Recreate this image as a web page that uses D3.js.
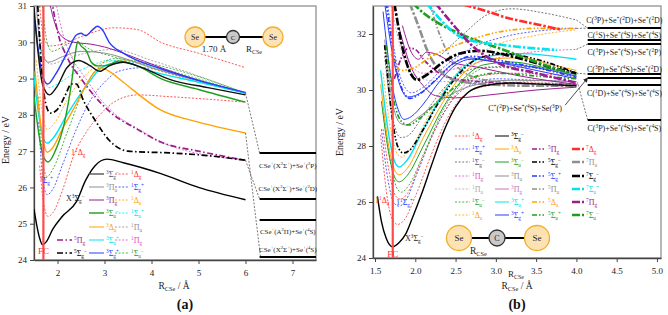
<!DOCTYPE html>
<html>
<head>
<meta charset="utf-8">
<script src="https://cdn.jsdelivr.net/npm/d3@7"></script>
<style>
  body { margin: 0; background: #fff; }
  svg { font-family: 'Liberation Serif', 'DejaVu Serif', serif; }
</style>
</head>
<body>
<svg id="chart" width="668" height="315"></svg>
<script>
// ---------- panel (a) data: [R (Å), E (eV)] ----------
const a_X      = [[1.5,25.4],[1.56,24.95],[1.62,24.6],[1.68,24.42],[1.76,24.5],[1.9,24.85],[2.1,25.2],[2.4,25.6],[2.6,26.2],[2.8,26.6],[3.05,26.78],[3.4,26.68],[4.2,26.38],[5.0,26.0],[6.0,25.66]];
const a_3Sgm   = [[1.5,30.95],[1.58,29.8],[1.68,28.85],[1.83,28.55],[2.0,28.8],[2.2,29.3],[2.45,29.5],[2.7,29.35],[2.9,29.2],[3.1,29.35],[3.4,29.45],[3.8,29.3],[4.4,28.97],[5.2,28.75],[6.0,28.55]];
const a_3Sgp   = [[1.52,30.6],[1.6,29.7],[1.7,29.0],[1.79,28.85],[1.95,29.1],[2.2,29.7],[2.4,30.2],[2.5,30.25],[2.6,30.18],[2.75,30.35],[2.85,30.44],[2.95,30.35],[3.1,30.0],[3.4,29.7],[4.2,29.27],[5.0,28.95],[6.0,28.62]];
const a_3Sum   = [[1.5,28.5],[1.6,27.5],[1.7,26.85],[1.8,26.7],[1.95,27.0],[2.15,27.8],[2.3,28.9],[2.38,29.7],[2.43,30.02],[2.5,29.9],[2.62,29.75],[2.72,29.45],[2.85,29.35],[3.0,29.35],[3.3,29.48],[3.7,29.35],[4.2,29.0],[5.0,28.7],[6.0,28.35]];
const a_3Du    = [[1.52,29.2],[1.6,28.2],[1.7,27.25],[1.78,26.97],[1.9,27.1],[2.1,27.6],[2.4,28.3],[2.6,28.8],[2.8,29.2],[2.93,29.3],[3.1,29.2],[3.4,28.9],[4.2,28.13],[5.0,27.8],[6.0,27.5]];
const a_3Sup   = [[1.48,29.3],[1.6,28.0],[1.7,27.35],[1.78,27.22],[1.9,27.35],[2.2,28.0],[2.5,28.6],[2.7,28.95],[2.85,29.2],[3.1,29.4],[3.4,29.45],[4.0,29.2],[5.0,28.9],[6.0,28.6]];
const a_3Pg    = [[1.83,31.1],[1.95,30.5],[2.1,30.15],[2.35,30.0],[2.7,29.95],[3.0,29.87],[3.5,29.65],[4.2,29.3],[5.0,28.95],[6.0,28.6]];
const a_3Pu    = [[1.55,31],[1.65,29.8],[1.8,29.45],[2.1,29.6],[2.5,29.75],[3.0,29.7],[4.0,29.3],[6.0,28.6]];
const a_5Pg    = [[1.87,31.2],[2.0,30.3],[2.2,29.6],[2.5,29.0],[2.8,28.5],[3.1,28.1],[3.7,27.6],[4.2,27.25],[5.0,27.0],[6.0,26.75]];
const a_1Pg    = [[1.95,31.2],[2.1,30.3],[2.3,29.6],[2.6,29.0],[2.9,28.45],[3.2,28.05],[3.8,27.55],[4.2,27.25],[6.0,26.75]];
const a_5Sgm   = [[1.58,31],[1.65,29.5],[1.75,28.3],[1.85,28.05],[2.0,28.15],[2.15,28.5],[2.3,28.85],[2.4,28.85],[2.55,28.4],[2.8,27.85],[3.1,27.3],[3.5,27.0],[4.4,26.95],[5.0,26.9],[6.0,26.75]];
const a_1Dg_lo = [[1.62,26.6],[1.7,25.6],[1.8,25.2],[1.9,25.3],[2.1,25.9],[2.35,26.9],[2.6,27.5],[2.9,28.0],[3.2,28.35],[3.7,28.55],[4.4,28.5],[5.0,28.45],[6.0,28.35]];
const a_1Dg_hi = [[1.62,31],[1.68,30.3],[1.75,30.0],[1.83,29.9],[2.0,29.92],[2.3,30.05],[2.7,30.25],[3.2,30.4],[3.7,30.35],[4.2,30.0],[5.0,29.7],[6.0,29.3]];
const a_1Sgp   = [[1.6,27.8],[1.7,26.1],[1.78,25.8],[1.9,25.95],[2.1,26.6],[2.4,27.6],[2.7,28.4],[3.0,28.9],[3.3,29.2],[3.8,29.3],[4.5,29.1],[6.0,28.6]];
const a_1Du    = [[1.55,29.5],[1.65,28.3],[1.78,27.6],[1.95,27.8],[2.2,28.4],[2.6,29.1],[3.0,29.45],[3.5,29.5],[4.2,29.2],[6.0,28.6]];
const a_1Sup   = [[1.6,30.3],[1.7,29.1],[1.82,28.75],[2.0,28.85],[2.3,29.1],[2.7,29.35],[3.1,29.5],[3.6,29.45],[4.3,29.2],[6.0,28.6]];
const a_1Pu    = [[1.6,30.5],[1.72,29.6],[1.85,29.4],[2.2,29.55],[2.6,29.7],[3.2,29.8],[4.0,29.5],[6.0,28.6]];
const a_1Sum   = [[1.6,28.5],[1.7,26.6],[1.78,26.3],[1.9,26.5],[2.2,27.5],[2.6,28.8],[2.9,29.35],[3.2,29.55],[3.8,29.45],[6.0,28.6]];
const a_1Sum2  = [[1.68,31],[1.78,30.0],[1.88,29.75],[2.0,29.8],[2.2,29.95],[2.4,30.0],[2.7,29.8],[3.2,29.6],[4.0,29.35],[6.0,28.6]];
const a_links  = [[[6.0,28.6],[6.3,26.95]],[[6.0,27.5],[6.32,24.08]],[[6.0,26.75],[6.3,25.68]]];
const a_limits = [26.95, 25.68, 25.1, 24.08];
const a_limitLabelE = [26.53, 25.9, 24.72, 24.22];
const a_limitText = ['CSe^{+}(X^{2}Σ^{+})+Se^{+}(^{2}P)', 'CSe^{+}(X^{2}Σ^{+})+Se^{+}(^{2}D)', 'CSe^{+}(A^{2}Π)+Se^{+}(^{4}S)', 'CSe^{+}(X^{2}Σ^{+})+Se^{+}(^{4}S)'];
const a_xTicks = [2, 3, 4, 5, 6, 7];
const a_yTicks = [24, 25, 26, 27, 28, 29, 30, 31];

// ---------- panel (b) data ----------
const b_X      = [[1.53,26.2],[1.58,25.3],[1.64,24.7],[1.72,24.4],[1.8,24.55],[1.88,24.85],[1.96,25.4],[2.08,26.3],[2.2,27.3],[2.35,28.5],[2.5,29.4],[2.65,29.9],[2.85,30.15],[3.2,30.25],[3.6,30.2],[4.0,30.15]];
const b_1Dg_a  = [[1.57,28.4],[1.64,26.4],[1.72,25.35],[1.78,25.2],[1.86,25.35],[2.0,26.2],[2.2,27.7],[2.4,29.0],[2.6,29.8],[2.9,30.15],[3.4,30.25],[4.0,30.2]];
const b_1Sgp_a = [[1.58,28.6],[1.66,26.8],[1.74,25.95],[1.8,25.85],[1.88,26.05],[2.02,27.0],[2.2,28.3],[2.45,29.6],[2.7,30.2],[3.0,30.4],[3.5,30.35],[4.0,30.3]];
const b_1Dg_b  = [[1.6,28.6],[1.68,27.0],[1.76,26.2],[1.82,26.1],[1.9,26.3],[2.05,27.3],[2.3,28.9],[2.55,30.0],[2.8,30.5],[3.2,30.6],[4.0,30.5]];
const b_1Sum   = [[1.6,29.2],[1.7,27.3],[1.78,26.45],[1.83,26.35],[1.92,26.6],[2.1,27.7],[2.35,29.3],[2.6,30.3],[2.9,30.8],[3.4,30.8],[4.0,30.55]];
const b_3Sum   = [[1.58,29.6],[1.68,27.6],[1.76,26.8],[1.8,26.72],[1.9,26.95],[2.1,28.0],[2.35,29.4],[2.6,30.4],[2.85,30.9],[3.2,31.0],[3.6,30.8],[4.0,30.55]];
const b_3Du    = [[1.57,30.2],[1.67,28.0],[1.75,27.1],[1.8,26.97],[1.9,27.2],[2.1,28.3],[2.35,29.6],[2.6,30.6],[2.9,31.1],[3.3,31.15],[3.7,30.9],[4.0,30.7]];
const b_3Sup   = [[1.57,30.7],[1.67,28.4],[1.75,27.4],[1.8,27.25],[1.9,27.5],[2.1,28.6],[2.35,29.9],[2.6,30.8],[2.9,31.2],[3.3,31.3],[4.0,31.1]];
const b_1Du    = [[1.6,30.6],[1.7,28.5],[1.78,27.7],[1.83,27.6],[1.93,27.85],[2.15,29.0],[2.4,30.2],[2.7,31.1],[3.0,31.6],[3.5,31.95],[4.0,32.15]];
const b_5Sgm   = [[1.62,31.6],[1.7,29.3],[1.78,28.0],[1.85,27.75],[1.93,27.85],[2.08,28.5],[2.3,29.6],[2.55,30.6],[2.8,31.15],[3.1,31.3],[3.5,31.1],[4.0,30.6]];
const b_1Sgm   = [[1.62,31.2],[1.72,29.0],[1.82,28.3],[1.9,28.35],[2.1,29.1],[2.4,30.2],[2.8,30.8],[3.3,30.85],[4.0,30.6]];
const b_3Pu    = [[1.62,31.8],[1.72,29.5],[1.82,28.8],[1.88,28.75],[2.0,28.95],[2.3,29.6],[2.7,30.15],[3.2,30.35],[4.0,30.3]];
const b_5Sup   = [[1.64,31.6],[1.76,29.3],[1.86,28.8],[1.92,28.75],[2.06,29.0],[2.3,29.65],[2.6,30.3],[3.0,30.6],[3.5,30.5],[4.0,30.4]];
const b_3Sgp_a = [[1.6,32.8],[1.7,30.4],[1.8,29.2],[1.86,28.95],[1.95,29.05],[2.1,29.5],[2.3,30.3],[2.5,30.9],[2.7,31.1],[3.0,31.0],[3.5,30.8],[4.0,30.5]];
const b_3Sgp_b = [[1.62,33.1],[1.75,30.8],[1.85,29.9],[1.9,29.75],[2.0,29.8],[2.2,30.2],[2.45,30.9],[2.65,31.15],[2.9,31.05],[3.5,30.7],[4.0,30.4]];
const b_5Sgp   = [[1.64,33.1],[1.77,30.7],[1.88,29.8],[1.94,29.7],[2.05,29.85],[2.25,30.35],[2.5,31.0],[2.7,31.2],[2.95,31.1],[3.5,30.8],[4.0,30.45]];
const b_1Sgp_b = [[1.66,33],[1.8,30.6],[1.95,29.9],[2.1,30.1],[2.35,30.8],[2.7,31.5],[3.1,31.9],[3.5,32.1],[4.0,32.2]];
const b_7Sgm   = [[1.74,33.1],[1.85,31.4],[1.95,30.55],[2.02,30.36],[2.12,30.5],[2.35,31.0],[2.55,31.3],[2.8,31.4],[3.2,31.2],[3.7,30.8],[4.0,30.6]];
const b_3Pg_a  = [[1.8,32.2],[1.95,30.8],[2.1,30.15],[2.25,29.8],[2.5,29.72],[3.0,29.85],[3.5,30.0],[4.0,30.1]];
const b_3Pg_b  = [[1.84,32.3],[1.95,31.35],[2.04,31.1],[2.14,31.35],[2.24,31.3],[2.45,31.0],[2.8,30.8],[3.3,30.5],[4.0,30.2]];
const b_5Pg    = [[1.74,30.4],[1.82,31.1],[1.92,31.5],[2.0,31.45],[2.1,31.1],[2.3,30.6],[2.6,30.35],[3.2,30.25],[4.0,30.2]];
const b_7Pu    = [[1.93,33.1],[2.05,32.2],[2.15,31.4],[2.3,30.7],[2.5,30.35],[2.9,30.2],[3.5,30.15],[4.0,30.15]];
const b_5Pu    = [[2.18,33.1],[2.3,32.0],[2.45,31.1],[2.65,30.55],[3.0,30.3],[3.5,30.2],[4.0,30.15]];
const b_1Pu    = [[1.7,33],[1.85,31.2],[2.0,30.5],[2.3,30.3],[2.8,30.35],[4.0,30.2]];
const b_7Sum   = [[1.97,33.1],[2.1,32.75],[2.25,32.45],[2.6,31.95],[3.1,31.43],[3.5,31.0],[3.92,30.6]];
const b_7Sup   = [[2.14,33.1],[2.35,32.4],[2.5,32.0],[2.65,31.8],[3.1,31.6],[3.76,31.43]];
const b_7Pg    = [[2.25,33.1],[2.45,32.4],[2.7,31.6],[3.0,31.0],[3.5,30.6],[4.02,30.25]];
const b_7Dg    = [[2.6,33.05],[2.9,32.8],[3.15,32.57],[3.5,32.35],[3.82,32.15]];
const b_5Du    = [[1.7,31.3],[1.82,30.7],[1.95,30.75],[2.2,31.2],[2.6,31.7],[3.0,32.05],[3.5,32.2],[4.0,32.2]];
const b_1Pg    = [[1.78,32.0],[1.92,31.0],[2.1,30.6],[2.4,30.7],[2.8,31.0],[3.3,31.3],[4.0,31.45]];
const b_1Sgm2  = [[2.3,31.2],[2.6,32.0],[2.9,32.7],[3.2,32.9],[3.6,32.75],[4.0,32.5]];
const b_links  = [[[4.0,32.5],[4.14,32.21]],[[4.0,32.2],[4.14,32.21]],[[4.0,31.45],[4.14,31.64]],[[4.0,30.6],[4.14,30.57]],[[4.02,30.2],[4.14,28.93]]];
const b_limits = [32.21, 31.79, 31.64, 30.57, 30.43, 30.18, 28.93];
const b_limitLabelE = [32.39, 31.86, 31.25, 30.64, 29.79, 28.54];
const b_limitText = ['C(^{3}P)+Se^{+}(^{2}D)+Se^{+}(^{2}D)', 'C(^{1}S)+Se^{+}(^{4}S)+Se^{+}(^{4}S)', 'C(^{3}P)+Se^{+}(^{4}S)+Se^{+}(^{2}P)', 'C(^{3}P)+Se^{+}(^{4}S)+Se^{+}(^{2}D)', 'C(^{1}D)+Se^{+}(^{4}S)+Se^{+}(^{4}S)', 'C(^{3}P)+Se^{+}(^{4}S)+Se^{+}(^{4}S)'];
const b_xTicks = [1.5, 2.0, 2.5, 3.0, 3.5, 4.0, 4.5, 5.0];
const b_yTicks = [24, 26, 28, 30, 32];

// ---------- styles ----------
const RED = '#ff2d2d', BLUE = '#2b3bff', GRAY = '#8f8f8f', DGRAY = '#555', PURPLE = '#9a1d90',
      PINK = '#c474bc', MAG = '#e04cc4', ORANGE = '#ffa200', CYAN = '#00e4f0', GREEN = '#1e9e1e', BLACK = '#000';
const ST = {
  solid: { w: 1.0, dash: null },
  thick: { w: 1.4, dash: null },
  dot:   { w: 0.8, dash: '2,1.6' },
  dd:    { w: 1.7, dash: '5,2,1.5,2,1.5,2' },
  da:    { w: 1.7, dash: '6,2.5,1.5,2.5' },
  sept:  { w: 2.6, dash: '8,2,2.5,2' }
};

const svg = d3.select('#chart');

function rich(g, str, x, y, size, fill, anchor) {
  const t = g.append('text').attr('x', x).attr('y', y).attr('font-size', size)
    .attr('fill', fill).attr('text-anchor', anchor || 'start');
  const re = /([\^_])\{([^}]*)\}|([^\^_]+)/g;
  let m, cur = 0;
  while ((m = re.exec(str)) !== null) {
    const sup = m[1] === '^', sub = m[1] === '_';
    const shift = sup ? -0.4 * size : sub ? 0.25 * size : 0;
    t.append('tspan').attr('dy', shift - cur)
      .attr('font-size', (sup || sub) ? size * 0.66 : size)
      .text(sup || sub ? m[2] : m[3]);
    cur = shift;
  }
  return t;
}

function strokeStyle(sel, color, st) {
  sel.attr('fill', 'none').attr('stroke', color).attr('stroke-width', ST[st].w);
  if (ST[st].dash) sel.attr('stroke-dasharray', ST[st].dash);
  return sel;
}

function panel(cfg) {
  const g = svg.append('g');
  const x = d3.scaleLinear().domain(cfg.xDom).range([cfg.left, cfg.right]);
  const y = d3.scaleLinear().domain(cfg.yDom).range([cfg.bottom, cfg.top]);
  const id = 'clip' + cfg.name;
  svg.append('clipPath').attr('id', id).append('rect')
    .attr('x', cfg.left).attr('y', cfg.top).attr('width', cfg.right - cfg.left).attr('height', cfg.bottom - cfg.top);

  // frame
  g.append('rect').attr('x', cfg.left).attr('y', cfg.top).attr('width', cfg.right - cfg.left)
    .attr('height', cfg.bottom - cfg.top).attr('fill', 'none').attr('stroke', '#999').attr('stroke-width', 1.4);

  const xAxis = d3.axisBottom(x).tickValues(cfg.xTicks).tickSize(4).tickSizeOuter(0).tickFormat(cfg.xFmt);
  const yAxis = d3.axisLeft(y).tickValues(cfg.yTicks).tickSize(4).tickSizeOuter(0).tickFormat(d3.format('d'));
  const gx = g.append('g').attr('transform', 'translate(0,' + cfg.bottom + ')').call(xAxis);
  const gy = g.append('g').attr('transform', 'translate(' + cfg.left + ',0)').call(yAxis);
  [gx, gy].forEach(a => {
    a.select('.domain').attr('stroke', '#444').attr('stroke-width', 1.3);
    a.selectAll('.tick line').attr('stroke', '#444');
    a.selectAll('.tick text').attr('font-family', "'Liberation Serif', serif").attr('font-size', 9).attr('fill', '#222');
  });
  gx.selectAll('.tick text').attr('dy', '1.05em');

  const plot = g.append('g').attr('clip-path', 'url(#' + id + ')');
  const line = d3.line().x(d => x(d[0])).y(d => y(d[1])).curve(d3.curveMonotoneX);

  cfg.series.forEach(s => {
    strokeStyle(plot.append('path').attr('d', line(s.d)), s.c, s.s);
  });

  // FC line
  plot.append('line').attr('x1', x(cfg.fc)).attr('x2', x(cfg.fc)).attr('y1', y(cfg.yDom[0])).attr('y2', y(cfg.yDom[1]))
    .attr('stroke', '#ff4a4a').attr('stroke-width', 2.2);

  // connectors and limits
  cfg.links.forEach(l => {
    plot.append('path').attr('d', d3.line().x(d => x(d[0])).y(d => y(d[1]))(l))
      .attr('stroke', '#555').attr('stroke-width', 0.8).attr('stroke-dasharray', '2,1.5').attr('fill', 'none');
  });
  cfg.limits.forEach(e => {
    plot.append('line').attr('x1', x(cfg.limX)).attr('x2', cfg.right).attr('y1', y(e)).attr('y2', y(e))
      .attr('stroke', '#000').attr('stroke-width', 2);
  });
  cfg.limitText.forEach((t, i) => {
    rich(g, t, (x(cfg.limX) + cfg.right) / 2, y(cfg.limitLabelE[i]), cfg.limFont, '#222', 'middle');
  });

  // axis titles
  g.append('text').attr('transform', 'translate(' + cfg.yTitleX + ',' + cfg.yTitleY + ') rotate(-90)')
    .attr('text-anchor', 'middle').attr('font-size', 10).attr('fill', '#222').text('Energy / eV');
  rich(g, 'R_{CSe} / Å', cfg.xTitleX, 289, 9.5, '#222', 'middle');
  g.append('text').attr('x', cfg.tagX).attr('y', 309).attr('text-anchor', 'middle')
    .attr('font-size', 14).attr('font-weight', 'bold').attr('fill', '#111').text(cfg.tag);

  return { g, x, y };
}

function legendRow(g, x1, x2, yy, color, st, label, labelColor) {
  strokeStyle(g.append('line').attr('x1', x1).attr('x2', x2).attr('y1', yy).attr('y2', yy), color, st);
  rich(g, label, x2 + 2, yy + 3, 8, labelColor || color);
}

function molecule(g, cx, cy, gapL, gapR, rSe, rC, fs) {
  g.append('line').attr('x1', cx - gapL).attr('x2', cx + gapR).attr('y1', cy).attr('y2', cy)
    .attr('stroke', '#000').attr('stroke-width', 2);
  [[cx - gapL, rSe, 'Se', '#fde3b4', '#f2ae2e'], [cx, rC, 'C', '#c9c9c9', '#333'], [cx + gapR, rSe, 'Se', '#fde3b4', '#f2ae2e']]
    .forEach(a => {
      g.append('circle').attr('cx', a[0]).attr('cy', cy).attr('r', a[1]).attr('fill', a[3]).attr('stroke', a[4]).attr('stroke-width', 1.3);
      g.append('text').attr('x', a[0]).attr('y', cy + fs * 0.35).attr('text-anchor', 'middle')
        .attr('font-size', a[2] === 'C' ? fs - 1 : fs).attr('fill', '#222').text(a[2]);
    });
}

// ================= panel (a) =================
const A = panel({
  name: 'a', xDom: [1.5, 7.5], yDom: [24, 31], left: 34, right: 316, top: 6, bottom: 260,
  xTicks: a_xTicks, yTicks: a_yTicks, xFmt: d3.format('d'), fc: 1.7,
  series: [
    { d: a_1Dg_lo, c: RED, s: 'dot' }, { d: a_1Dg_hi, c: RED, s: 'dot' },
    { d: a_1Sgp, c: BLUE, s: 'dot' }, { d: a_1Du, c: ORANGE, s: 'dot' },
    { d: a_1Sup, c: CYAN, s: 'dot' }, { d: a_1Pu, c: GRAY, s: 'dot' },
    { d: a_1Pg, c: MAG, s: 'dot' }, { d: a_1Sum, c: GREEN, s: 'dot' }, { d: a_1Sum2, c: GREEN, s: 'dot' },
    { d: a_3Pu, c: GRAY, s: 'solid' }, { d: a_3Pg, c: PURPLE, s: 'solid' },
    { d: a_3Sup, c: CYAN, s: 'thick' }, { d: a_3Du, c: ORANGE, s: 'thick' },
    { d: a_3Sum, c: GREEN, s: 'thick' }, { d: a_3Sgp, c: BLUE, s: 'thick' },
    { d: a_3Sgm, c: '#111', s: 'thick' }, { d: a_X, c: BLACK, s: 'thick' },
    { d: a_5Pg, c: PURPLE, s: 'da' }, { d: a_5Sgm, c: BLACK, s: 'da' }
  ],
  links: a_links, limits: a_limits, limX: 6.3, limitText: a_limitText, limitLabelE: a_limitLabelE, limFont: 7,
  yTitleX: 9, yTitleY: 140, xTitleX: 174, tag: '(a)', tagX: 185
});

// legend (a)
const la = A.g.append('g');
const aRows = [174, 187, 200, 213, 227, 240, 253];
const aSolid = [['^{3}Σ_{g}^{−}', DGRAY, 'thick'], ['^{3}Π_{u}', GRAY, 'solid'], ['^{3}Π_{g}', PURPLE, 'solid'], ['^{3}Σ_{u}^{−}', GREEN, 'thick'],
                ['^{3}Δ_{u}', ORANGE, 'solid'], ['^{3}Σ_{u}^{+}', CYAN, 'solid'], ['^{3}Σ_{g}^{+}', BLUE, 'solid']];
const aDot = [['^{1}Δ_{g}', RED], ['^{1}Σ_{g}^{+}', BLUE], ['^{1}Δ_{u}', ORANGE], ['^{1}Σ_{u}^{+}', CYAN],
              ['^{1}Π_{u}', GRAY], ['^{1}Π_{g}', MAG], ['^{1}Σ_{u}^{−}', GREEN]];
aSolid.forEach((r, i) => legendRow(la, 89, 104, aRows[i], r[1], r[2], r[0]));
aDot.forEach((r, i) => legendRow(la, 115, 129, aRows[i], r[1], 'dot', r[0]));
legendRow(la, 57, 72, aRows[5], PURPLE, 'da', '^{5}Π_{g}');
legendRow(la, 57, 72, aRows[6], BLACK, 'da', '^{5}Σ_{g}^{−}');

rich(A.g, 'X^{3}Σ_{g}^{−}', 66, 201, 8, '#222');
rich(A.g, 'FC', A.x(1.7), 254, 9, RED, 'middle');
rich(A.g, '1^{1}Δ_{g}', 71, 155, 8, RED);
rich(A.g, '^{1}Σ_{g}^{+}', 40, 183, 8, BLUE);
molecule(A.g, 233, 37, 38, 40, 10, 6.5, 8);
A.g.append('text').attr('x', 214).attr('y', 52).attr('text-anchor', 'middle').attr('font-size', 9).attr('fill', '#222').text('1.70 Å');
rich(A.g, 'R_{CSe}', 246, 52, 9, '#222');

// ================= panel (b) =================
const B = panel({
  name: 'b', xDom: [1.475, 5.05], yDom: [24, 33], left: 373, right: 661, top: 6, bottom: 258,
  xTicks: b_xTicks, yTicks: b_yTicks, xFmt: d3.format('.1f'), fc: 1.72,
  series: [
    { d: b_1Dg_a, c: RED, s: 'dot' }, { d: b_1Sgp_a, c: BLUE, s: 'dot' }, { d: b_1Dg_b, c: RED, s: 'dot' },
    { d: b_1Sum, c: GREEN, s: 'dot' }, { d: b_1Du, c: ORANGE, s: 'dot' }, { d: b_1Sgm, c: '#555', s: 'dot' },
    { d: b_1Sgp_b, c: BLUE, s: 'dot' }, { d: b_1Pu, c: '#aaa', s: 'dot' }, { d: b_1Pg, c: MAG, s: 'dot' },
    { d: b_1Sgm2, c: '#555', s: 'dot' },
    { d: b_3Pu, c: GRAY, s: 'solid' }, { d: b_3Pg_a, c: PURPLE, s: 'solid' }, { d: b_3Pg_b, c: PURPLE, s: 'solid' },
    { d: b_3Sum, c: GREEN, s: 'solid' }, { d: b_3Du, c: ORANGE, s: 'solid' }, { d: b_3Sup, c: CYAN, s: 'thick' },
    { d: b_3Sgp_a, c: BLUE, s: 'solid' }, { d: b_3Sgp_b, c: BLUE, s: 'solid' },
    { d: b_5Sgm, c: BLACK, s: 'dd' }, { d: b_5Sup, c: GREEN, s: 'dd' }, { d: b_5Sgp, c: BLUE, s: 'dd' },
    { d: b_5Pg, c: PURPLE, s: 'dd' }, { d: b_5Pu, c: GRAY, s: 'dd' }, { d: b_5Du, c: ORANGE, s: 'dd' },
    { d: b_7Pu, c: GRAY, s: 'sept' }, { d: b_7Sgm, c: BLACK, s: 'sept' }, { d: b_7Sum, c: GREEN, s: 'sept' },
    { d: b_7Sup, c: CYAN, s: 'sept' }, { d: b_7Pg, c: PURPLE, s: 'sept' }, { d: b_7Dg, c: RED, s: 'sept' },
    { d: b_X, c: BLACK, s: 'thick' }
  ],
  links: b_links, limits: b_limits, limX: 4.14, limitText: b_limitText, limitLabelE: b_limitLabelE, limFont: 8,
  yTitleX: 343, yTitleY: 132, xTitleX: 517, tag: '(b)', tagX: 517
});

// legend (b)
const lb = B.g.append('g');
const bRows = [136, 149, 162, 176, 189, 202, 215];
const bDot = [['^{1}Δ_{g}', RED], ['^{1}Σ_{g}^{+}', BLUE], ['^{1}Σ_{g}^{−}', '#555'], ['^{1}Π_{g}', MAG],
              ['^{1}Π_{u}', '#aaa'], ['^{1}Σ_{u}^{−}', GREEN], ['^{1}Δ_{u}', ORANGE]];
const bSolid = [['^{3}Σ_{g}^{−}', BLACK], ['^{3}Δ_{u}', ORANGE], ['^{3}Σ_{u}^{−}', GREEN], ['^{3}Π_{u}', GRAY],
                ['^{3}Π_{g}', PINK], ['^{3}Σ_{u}^{+}', CYAN], ['^{3}Σ_{g}^{+}', BLUE]];
const bQuint = [['^{5}Π_{g}', PURPLE], ['^{5}Σ_{g}^{−}', BLACK], ['^{5}Σ_{g}^{+}', BLUE], ['^{5}Π_{u}', GRAY],
                ['^{5}Δ_{u}', ORANGE], ['^{5}Σ_{u}^{+}', GREEN]];
const bSept = [['^{7}Δ_{g}', RED], ['^{7}Π_{u}', GRAY], ['^{7}Σ_{g}^{−}', BLACK], ['^{7}Σ_{u}^{+}', CYAN],
               ['^{7}Π_{g}', PURPLE], ['^{7}Σ_{u}^{−}', GREEN]];
bDot.forEach((r, i) => legendRow(lb, 455, 470, bRows[i], r[1], 'dot', r[0]));
bSolid.forEach((r, i) => legendRow(lb, 495, 509, bRows[i], r[1], 'solid', r[0]));
bQuint.forEach((r, i) => legendRow(lb, 532, 546, bRows[i + 1], r[1], 'dd', r[0]));
bSept.forEach((r, i) => legendRow(lb, 572, 584, bRows[i + 1], r[1], 'sept', r[0]));

rich(B.g, 'X^{3}Σ_{g}^{−}', 405, 241, 8, '#222');
rich(B.g, 'FC', B.x(1.72), 257, 9, RED, 'middle');
rich(B.g, '1^{1}Δ_{g}', 375, 203, 8, RED);
rich(B.g, '1^{1}Σ_{g}^{+}', 396, 205, 8, BLUE);
molecule(B.g, 497, 238, 38, 40, 12.5, 8, 9);
rich(B.g, 'R_{CSe}', 470, 254, 9.5, '#222');
rich(B.g, 'R_{CSe}', 508, 277, 9, '#222');

// arrow annotation
svg.append('defs').append('marker').attr('id', 'arr').attr('viewBox', '0 0 10 10').attr('refX', 9).attr('refY', 5)
  .attr('markerWidth', 6).attr('markerHeight', 6).attr('orient', 'auto')
  .append('path').attr('d', 'M0,0 L10,5 L0,10 z').attr('fill', '#222');
B.g.append('line').attr('x1', B.x(3.86)).attr('y1', B.y(29.46)).attr('x2', B.x(4.14)).attr('y2', B.y(30.43))
  .attr('stroke', '#222').attr('stroke-width', 0.8).attr('marker-end', 'url(#arr)');
rich(B.g, 'C^{+}(^{2}P)+Se^{+}(^{4}S)+Se(^{3}P)', 525, 111, 8, '#222', 'middle');
</script>
</body>
</html>
